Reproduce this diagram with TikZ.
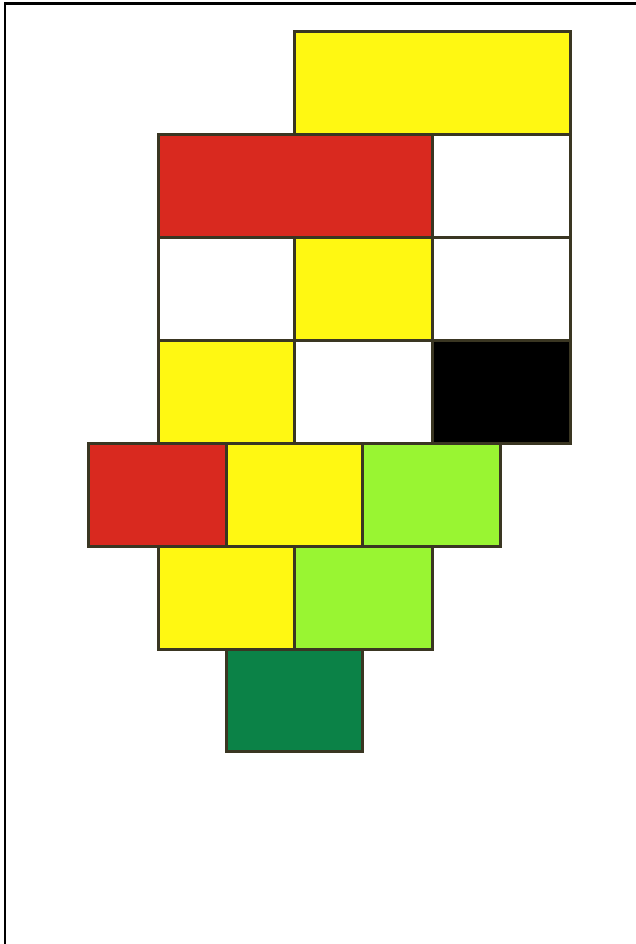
\documentclass[tikz,border=0pt]{standalone}
\usetikzlibrary{positioning}
\definecolor{cyel}{HTML}{FFF812}
\definecolor{cred}{HTML}{D9291F}
\definecolor{clgreen}{HTML}{99F532}
\definecolor{cdgreen}{HTML}{0B8247}
\definecolor{cedge}{HTML}{3A3622}
\tikzset{
  cell/.style={draw=cedge, line width=3pt, inner sep=0pt, outer sep=0pt, rectangle},
  framel/.style={draw=black, line width=2.6pt}
}
\newcommand{\cellbox}[6]{% name, x1, y1, x2, y2, colour
  \node[cell, fill=#6, minimum width={(#4-#2)*1pt}, minimum height={(#5-#3)*1pt}, anchor=north west] (#1) at (#2,#3) {};
}
\begin{document}
\begin{tikzpicture}[x=1pt,y=-1pt]
\useasboundingbox (0,0) rectangle (636,944);
\fill[white] (0,0) rectangle (636,944);
% row 1
\cellbox{y1}{294}{32}{570}{135}{cyel}
% row 2
\cellbox{r2}{158}{135}{432}{237}{cred}
\cellbox{w2}{432}{135}{570}{237}{white}
% row 3
\cellbox{w3a}{158}{237}{294}{340}{white}
\cellbox{y3}{294}{237}{432}{340}{cyel}
\cellbox{w3b}{432}{237}{570}{340}{white}
% row 4
\cellbox{y4}{158}{340}{294}{443}{cyel}
\cellbox{w4}{294}{340}{432}{443}{white}
\cellbox{k4}{432}{340}{570}{443}{black}
% row 5
\cellbox{r5}{88}{443}{226}{546}{cred}
\cellbox{y5}{226}{443}{362}{546}{cyel}
\cellbox{g5}{362}{443}{500}{546}{clgreen}
% row 6
\cellbox{y6}{158}{546}{294}{649}{cyel}
\cellbox{g6}{294}{546}{432}{649}{clgreen}
% row 7
\cellbox{d7}{226}{649}{362}{751}{cdgreen}
% frame
\coordinate (fa) at (5,944);
\coordinate (fb) at (5,3.8);
\coordinate (fc) at (636,3.8);
\draw[framel] (fa) -- (fb) -- (fc);
\end{tikzpicture}
\end{document}
